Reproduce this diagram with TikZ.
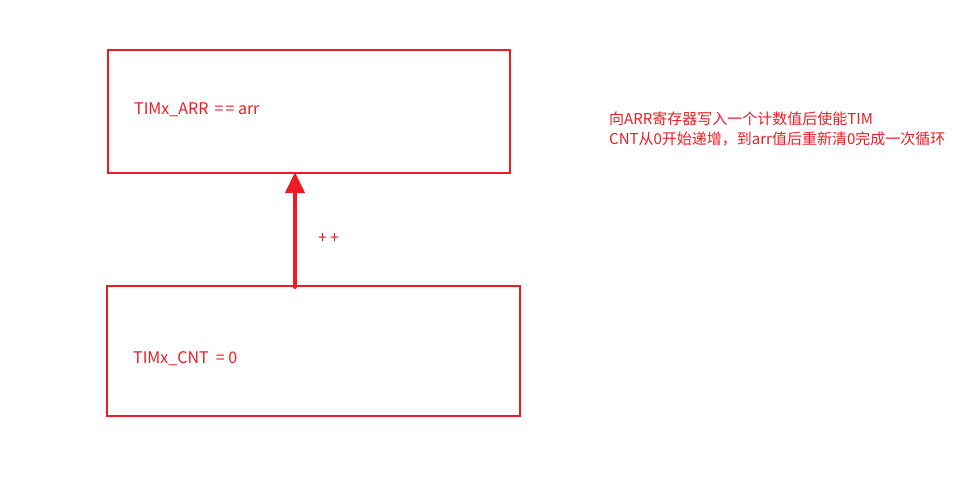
\documentclass[tikz,border=0pt]{standalone}
\usepackage{fontspec}
\setmainfont{Noto Sans CJK SC}
\usetikzlibrary{arrows.meta}
\definecolor{regred}{RGB}{237,28,36}

\begin{document}
\begin{tikzpicture}[x=1pt, y=-1pt,
        reg/.style={draw=regred, line width=2pt, minimum width=#1, inner sep=0pt},
        lbl/.style={text=regred, font=\fontsize{15}{20}\selectfont, inner sep=0pt, anchor=west},
        code/.style={lbl, font=\fontsize{16}{20}\selectfont},
        inc/.style={draw=regred, line width=4pt, line cap=round, -{Triangle[length=21pt, width=19pt]}}
    ]
        \useasboundingbox (0,0) rectangle (967,503);
        \node (arr) [reg=402pt, minimum height=123pt] at (309,111.5) {};
        \node (cnt) [reg=413pt, minimum height=130pt] at (313.5,351) {};
        \node (arrtxt) [code] at (134,110) {TIMx\_ARR \,=\kern2pt= arr};
        \node (cnttxt) [code] at (133,359) {TIMx\_CNT \ = 0};
        \coordinate (col) at (295,0);
        \draw [inc] ([yshift=-2pt]cnt.north -| col) -- ([yshift=2pt]arr.south -| col);
        \node (plus) [code] at (318,239) {+\kern3pt+};
        \node (note) [lbl, align=left] at (609,129) {向ARR寄存器写入一个计数值后使能TIM\\CNT从0开始递增，到arr值后重新清0完成一次循环};
    \end{tikzpicture}
\end{document}
